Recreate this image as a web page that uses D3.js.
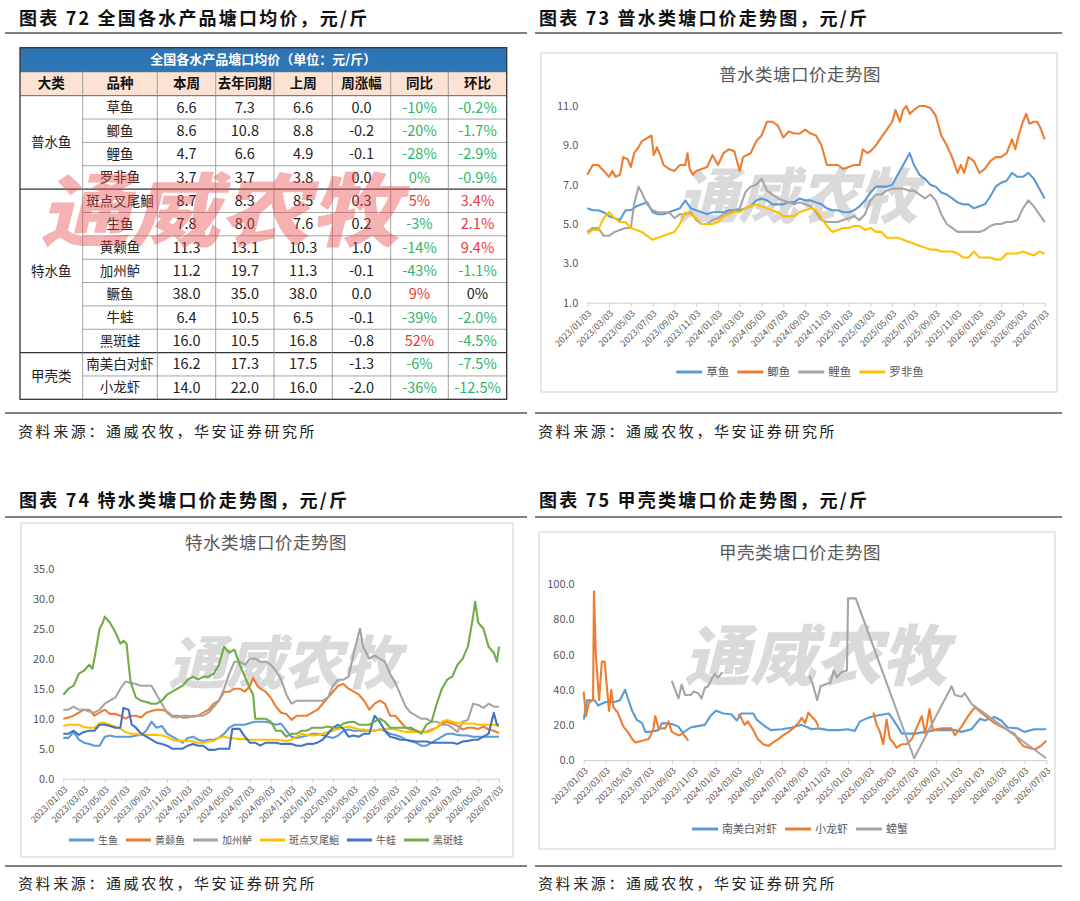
<!DOCTYPE html>
<html>
<head>
<meta charset="utf-8">
<script src="https://cdn.jsdelivr.net/npm/d3@7"></script>
<style>
  body { margin: 0; background: #fff; }
</style>
</head>
<body>
<div id="page"></div>
<script>

// ---------- table 72 ----------
const tableTitle = "全国各水产品塘口均价（单位：元/斤）"
const tableHeader = ["大类", "品种", "本周", "去年同期", "上周", "周涨幅", "同比", "环比"]
const categories = ["普水鱼", "普水鱼", "普水鱼", "普水鱼", "特水鱼", "特水鱼", "特水鱼", "特水鱼", "特水鱼", "特水鱼", "特水鱼", "甲壳类", "甲壳类"]
const varieties = ["草鱼", "鲫鱼", "鲤鱼", "罗非鱼", "斑点叉尾鮰", "生鱼", "黄颡鱼", "加州鲈", "鳜鱼", "牛蛙", "黑斑蛙", "南美白对虾", "小龙虾"]
const thisWeek = [6.6, 8.6, 4.7, 3.7, 8.7, 7.8, 11.3, 11.2, 38.0, 6.4, 16.0, 16.2, 14.0]
const lastYear = [7.3, 10.8, 6.6, 3.7, 8.3, 8.0, 13.1, 19.7, 35.0, 10.5, 10.5, 17.3, 22.0]
const lastWeek = [6.6, 8.8, 4.9, 3.8, 8.5, 7.6, 10.3, 11.3, 38.0, 6.5, 16.8, 17.5, 16.0]
const weekChange = [0.0, -0.2, -0.1, 0.0, 0.3, 0.2, 1.0, -0.1, 0.0, -0.1, -0.8, -1.3, -2.0]
const yoy = [-0.10, -0.20, -0.28, -0.004, 0.05, -0.03, -0.14, -0.43, 0.09, -0.39, 0.52, -0.06, -0.36]
const mom = [-0.002, -0.017, -0.029, -0.009, 0.034, 0.021, 0.094, -0.011, 0, -0.020, -0.045, -0.075, -0.125]

// ---------- shared x ticks ----------
const dateTicks = ["2023/01/03", "2023/03/03", "2023/05/03", "2023/07/03", "2023/09/03", "2023/11/03",
    "2024/01/03", "2024/03/03", "2024/05/03", "2024/07/03", "2024/09/03", "2024/11/03",
    "2025/01/03", "2025/03/03", "2025/05/03", "2025/07/03", "2025/09/03", "2025/11/03",
    "2026/01/03", "2026/03/03", "2026/05/03", "2026/07/03"]

// series points are [months since 2023/01/03, price]

// ---------- chart 73 ----------
const grassCarp = [[0,5.8],[0.5,5.7],[1,5.7],[1.5,5.6],[2,5.4],[2.5,5.3],[3,5.2],[3.5,5.7],[4,5.7],[4.5,5.9],[5,6.0],[5.5,6.1],[6,5.6],[6.5,5.5],[7,5.5],[7.5,5.6],[8,5.7],[8.5,5.8],[9,6.2],[9.5,5.8],[10,5.7],[10.5,5.6],[11,5.5],[11.5,5.6],[12,5.6],[12.5,5.6],[13,5.7],[13.5,5.7],[14,5.7],[14.5,5.8],[15,5.9],[15.5,6.2],[16,6.3],[16.5,6.2],[17,6.0],[17.5,6.0],[18,6.0],[18.5,6.1],[19,6.1],[19.5,6.3],[20,6.2],[20.5,6.2],[21,6.1],[21.5,6.0],[22,5.8],[22.5,5.7],[23,5.7],[23.5,5.6],[24,5.6],[24.5,5.7],[25,5.9],[25.5,6.2],[26,6.6],[26.5,6.9],[27,6.9],[27.5,6.9],[28,7.0],[28.5,7.5],[29,8.0],[29.6,8.6],[30,8.0],[30.5,7.5],[31,7.3],[31.5,7.0],[32,6.9],[32.5,6.6],[33,6.5],[33.5,6.3],[34,6.1],[34.5,6.0],[35,6.0],[35.5,5.8],[36,5.9],[36.5,6.0],[37,6.4],[37.5,6.9],[38,7.1],[38.5,7.2],[39,7.6],[39.5,7.4],[40,7.4],[40.5,7.6],[41,7.3],[41.5,6.8],[42,6.3]]
const crucian = [[0,7.5],[0.5,8.0],[1,8.0],[1.5,7.7],[2,7.4],[2.3,7.7],[2.6,7.4],[3,7.5],[3.3,8.4],[3.7,8.3],[4,7.9],[4.3,8.6],[4.7,8.9],[5,9.2],[5.6,9.4],[5.9,9.5],[6.1,8.5],[6.4,8.9],[6.7,8.5],[7,8.0],[7.5,7.8],[8,7.7],[8.5,8.0],[9,8.0],[9.2,8.6],[9.4,7.8],[9.7,7.5],[10,7.7],[10.5,7.8],[11,7.9],[11.5,8.5],[12,8.0],[12.5,8.6],[13,8.8],[13.5,8.7],[14,7.7],[14.3,8.4],[15,8.6],[15.5,9.2],[16,9.5],[16.5,10.2],[17,10.2],[17.5,10.0],[18,9.4],[18.5,9.7],[19,9.6],[19.5,9.6],[20,9.8],[20.5,9.6],[21,9.5],[21.5,9.0],[22,8.0],[22.5,8.0],[23,8.0],[23.5,7.8],[24,7.9],[24.5,8.0],[25,8.0],[25.3,8.8],[25.7,8.6],[26,8.7],[26.5,9.0],[27,9.4],[27.5,9.8],[28,10.2],[28.3,10.8],[28.7,10.2],[29,10.8],[29.3,11.0],[29.6,10.6],[30,10.8],[30.5,11.0],[31,11.0],[31.5,10.9],[32,10.5],[32.5,9.5],[33,9.0],[33.5,8.4],[34,7.6],[34.3,8.0],[34.6,7.6],[35,8.4],[35.5,8.2],[36,7.6],[36.5,7.8],[37,8.2],[37.5,8.4],[38,8.4],[38.5,8.6],[39,9.3],[39.3,8.8],[39.6,9.5],[40,10.2],[40.3,10.6],[40.6,10.1],[41,10.2],[41.3,10.2],[41.6,9.9],[42,9.3]]
const carp = [[0,4.6],[0.5,4.8],[1,4.8],[1.5,4.4],[2,4.4],[2.5,4.6],[3,4.7],[3.5,4.8],[4,4.8],[4.3,6.0],[4.7,6.9],[5,6.6],[5.5,6.0],[6,5.7],[6.5,5.6],[7,5.6],[7.5,5.6],[8,5.3],[8.5,5.5],[9,5.5],[9.5,5.6],[10,5.2],[10.5,5.0],[11,5.0],[11.5,5.2],[12,5.3],[12.5,5.5],[13,5.6],[13.5,5.7],[14,5.8],[14.5,6.6],[15,6.9],[15.5,7.0],[16,7.3],[16.5,6.7],[17,6.5],[17.5,6.3],[18,6.2],[18.5,6.1],[19,6.0],[19.5,6.1],[20,6.0],[20.5,5.9],[21,5.6],[21.5,5.2],[22,5.1],[22.5,5.1],[23,5.1],[23.5,5.2],[24,5.3],[24.5,5.4],[25,5.2],[25.5,5.5],[26,6.2],[26.5,6.5],[27,6.5],[27.5,6.7],[28,6.8],[28.5,6.8],[29,6.8],[29.5,6.7],[30,6.7],[30.5,6.5],[31,6.3],[31.5,6.5],[32,6.2],[32.5,5.5],[33,5.0],[33.5,4.8],[34,4.6],[34.5,4.6],[35,4.6],[35.5,4.6],[36,4.6],[36.5,4.7],[37,4.9],[37.5,5.0],[38,5.0],[38.5,5.1],[39,5.1],[39.5,5.2],[40,5.8],[40.5,6.2],[41,5.9],[41.5,5.5],[42,5.1]]
const tilapia = [[0,4.5],[0.5,4.7],[1,4.7],[1.5,5.3],[2,5.6],[2.5,5.3],[3,5.1],[3.5,5.1],[4,4.8],[4.5,4.7],[5,4.6],[5.5,4.4],[6,4.2],[6.5,4.3],[7,4.4],[7.5,4.5],[8,4.6],[8.5,5.0],[9,5.6],[9.5,5.5],[10,5.3],[10.5,5.0],[11,5.0],[11.5,5.0],[12,5.1],[12.5,5.4],[13,5.5],[13.5,5.6],[14,5.6],[14.5,5.8],[15,5.9],[15.5,6.0],[16,5.9],[16.5,5.8],[17,5.7],[17.5,5.6],[18,5.4],[18.5,5.4],[19,5.4],[19.5,5.6],[20,5.7],[20.5,5.8],[21,5.7],[21.5,5.3],[22,4.9],[22.5,4.6],[23,4.7],[23.5,4.8],[24,4.8],[24.5,4.9],[25,4.9],[25.5,4.7],[26,4.8],[26.5,4.6],[27,4.6],[27.5,4.3],[28,4.3],[28.5,4.3],[29,4.2],[29.5,4.1],[30,4.0],[30.5,3.9],[31,3.8],[31.5,3.7],[32,3.7],[32.5,3.6],[33,3.6],[33.5,3.6],[34,3.5],[34.5,3.3],[35,3.3],[35.5,3.6],[36,3.3],[36.5,3.3],[37,3.3],[37.5,3.2],[38,3.2],[38.5,3.5],[39,3.5],[39.5,3.5],[40,3.6],[40.5,3.5],[41,3.4],[41.5,3.6],[42,3.5]]

// ---------- chart 74 ----------
const snakehead = [[0,6.8],[0.5,6.8],[1,7.8],[1.5,6.5],[2,6.0],[2.5,5.8],[3,5.5],[3.5,5.5],[4,7.0],[4.5,7.2],[5,7.0],[5.5,7.0],[6,7.0],[6.5,7.0],[7,7.2],[7.5,7.3],[8,8.0],[8.5,9.5],[9,8.5],[9.5,8.8],[10,7.5],[10.5,7.0],[11,6.5],[11.5,6.0],[12,6.8],[12.5,7.0],[13,6.5],[13.5,6.3],[14,6.5],[14.5,6.5],[15,6.8],[15.5,7.5],[16,8.5],[16.5,9.0],[17,9.0],[17.5,9.0],[18,9.3],[18.5,9.5],[19,9.5],[19.5,9.5],[20,9.3],[20.5,9.0],[21,9.2],[21.5,8.0],[22,7.0],[22.5,6.8],[23,7.0],[23.5,7.2],[24,7.5],[24.5,7.5],[25,7.3],[25.5,7.0],[26,6.8],[26.5,7.2],[27,8.0],[27.5,8.2],[28,8.0],[28.5,8.0],[29,8.0],[29.5,8.0],[30,8.0],[30.5,8.2],[31,8.0],[31.5,7.5],[32,7.3],[32.5,7.0],[33,6.5],[33.5,6.3],[34,6.0],[34.5,5.5],[35,5.5],[35.5,6.0],[36,6.5],[36.5,7.0],[37,7.5],[37.5,7.5],[38,7.3],[38.5,7.2],[39,7.2],[39.5,7.0],[40,7.0],[40.5,7.0],[41,7.0],[41.5,7.0],[42,7.0]]
const yellowCatfish = [[0,10],[0.5,10.2],[1,10.5],[1.5,11],[2,11.5],[2.5,11.5],[3,10.5],[3.5,11],[4,11.5],[4.5,10.8],[5,10.8],[5.5,10.5],[6,10],[6.5,10.5],[7,10.5],[7.5,10.2],[8,11],[8.5,11.3],[9,11.5],[9.5,11.5],[10,11.2],[10.5,10.5],[11,10.5],[11.5,10.2],[12,10.2],[12.5,10.5],[13,10.5],[13.5,11],[14,11.5],[14.5,12.5],[15,13],[15.5,14.5],[16,14.5],[16.5,15],[17,15],[17.5,14.5],[18,15.5],[18.3,16.8],[18.7,15.5],[19,15],[19.5,14.5],[20,13.5],[20.5,12],[21,11],[21.5,10.8],[22,9.8],[22.5,10.5],[23,10.5],[23.5,10.5],[24,11],[24.5,11.5],[25,12.5],[25.5,13.5],[26,14.5],[26.5,15.5],[27,15.8],[27.5,15],[28,14.5],[28.5,14],[29,13],[29.5,11.5],[30,12.5],[30.5,13],[31,12.5],[31.5,10.5],[32,10.5],[32.5,9.5],[33,8.5],[33.5,8.2],[34,8],[34.5,7.8],[35,7.8],[35.5,8.2],[36,8.5],[36.5,9.2],[37,9.5],[37.5,9.2],[38,8.8],[38.5,8.2],[39,8.5],[39.5,8.5],[40,8.3],[40.5,8.7],[41,8.2],[41.5,8.0],[42,7.6]]
const bass = [[0,11.5],[0.5,11.5],[1,12],[1.5,11.5],[2,11.5],[2.5,11.2],[3,11],[3.5,11.5],[4,12.5],[4.5,13],[5,13.5],[5.5,15],[6,16.2],[6.5,16],[7,15.8],[7.5,15.5],[8,15.5],[8.5,15.5],[9,14],[9.5,12.5],[10,11],[10.5,10.3],[11,10.2],[11.5,10.5],[12,10.5],[12.5,10.3],[13,10.5],[13.5,10.5],[14,11],[14.5,12],[15,13],[15.5,15],[16,17.5],[16.5,19.5],[17,19.5],[17.5,19],[18,20],[18.5,20],[19,19.5],[19.5,19.5],[20,19],[20.5,18],[21,16.5],[21.5,14],[22,12.5],[22.5,13],[23,13],[23.5,13],[24,13],[24.5,13],[25,13],[25.5,13.5],[26,15.5],[26.5,16.5],[27,16.5],[27.5,17],[28,21],[28.6,25],[28.9,22],[29.2,21],[29.5,20],[30,20.5],[30.5,20],[31,19.5],[31.5,17.5],[32,16],[32.5,14],[33,12],[33.5,11],[34,10.5],[34.5,10],[35,10],[35.5,9.5],[36,9.5],[36.5,9],[37,9],[37.5,8.5],[38,7.8],[38.5,9.5],[39,9.8],[39.5,12.5],[40,12.3],[40.5,11.8],[41,12.5],[41.5,12],[42,12]]
const channelCatfish = [[0,8.8],[0.5,9],[1,9],[1.5,9],[2,8.6],[2.5,8.5],[3,8.5],[3.5,9.3],[4,9.3],[4.5,9],[5,8.7],[5.5,8.3],[6,7.8],[6.5,7.5],[7,7.5],[7.5,7.3],[8,7.3],[8.5,7.3],[9,7.3],[9.5,7.2],[10,7],[10.5,6.5],[11,6.3],[11.5,6.3],[12,6.3],[12.5,6.2],[13,6],[13.5,6],[14,6.2],[14.5,6.3],[15,6.8],[15.5,7],[16,6.8],[16.5,6.7],[17,6.6],[17.5,6.6],[18,6.5],[18.5,6.5],[19,6.5],[19.5,6.5],[20,6.5],[20.5,6.5],[21,6.4],[21.5,6.3],[22,6.5],[22.5,7],[23,7.5],[23.5,7.3],[24,7.2],[24.5,7.3],[25,7.5],[25.5,7.8],[26,8],[26.5,8.3],[27,8.5],[27.5,8.7],[28,8.5],[28.5,8.2],[29,8.2],[29.5,8],[30,8],[30.5,8.2],[31,8.3],[31.5,8.3],[32,8.2],[32.5,8],[33,7.8],[33.5,7.8],[34,7.8],[34.5,7.8],[35,7.7],[35.5,8],[36,8.5],[36.5,9.5],[37,9.8],[37.5,9.5],[38,9.3],[38.5,9.2],[39,9.2],[39.5,9.2],[40,9.0],[40.5,9.0],[41,9.0],[41.5,9.0],[42,8.7]]
const bullfrog = [[0,7.5],[0.5,7.5],[1,8],[1.5,7.3],[2,7.8],[2.5,8],[3,8],[3.5,9],[4,9],[4.5,8.8],[5,8.5],[5.5,8.5],[5.8,11.8],[6.3,11.5],[6.6,9],[7,8.5],[7.5,7.5],[8,7],[8.5,6.5],[9,6],[9.5,5.8],[10,5.5],[10.5,5],[11,5],[11.5,5],[12,5.5],[12.5,5.8],[13,5.5],[13.5,5.5],[14,4.8],[14.5,4.8],[15,5],[15.5,5],[16,5],[16.3,8.3],[17,8.3],[17.5,7],[18,6],[18.5,6],[19,5.5],[19.5,6],[20,6],[20.5,6],[21,5.8],[21.5,5.8],[22,5.8],[22.5,5.5],[23,5.5],[23.5,5.8],[24,5.8],[24.5,6],[25,6.5],[25.5,7.5],[26,8.5],[26.5,9],[27,8.3],[27.5,7],[28,7.2],[28.5,7],[29,7.5],[29.5,7.5],[30,10.5],[30.5,9.5],[31,8],[31.5,7],[32,6.8],[32.5,6.5],[33,6.5],[33.5,6.3],[34,6.2],[34.5,6.2],[35,6.2],[35.5,6],[36,6],[36.5,6],[37,6],[37.5,6],[38,5.8],[38.5,6.2],[39,6.3],[39.5,6.5],[40,6.5],[40.5,7],[41,7.5],[41.5,11],[41.8,9],[42,9]]
const blackFrog = [[0,14],[0.5,15],[1,15.5],[1.5,17.5],[2,18],[2.5,19],[2.8,18.3],[3,20],[3.5,25],[3.8,26],[4,27],[4.5,26],[5,24.5],[5.5,22.5],[5.8,23],[6.1,22.5],[6.3,19],[6.5,16],[7,13.5],[7.5,13],[8,12.8],[8.5,12.5],[9,12.5],[9.5,13],[10,14],[10.5,14.5],[11,15],[11.5,15.5],[12,16.5],[12.5,17],[13,16.5],[13.5,17],[14,17],[14.5,17.5],[15,19],[15.5,22],[16,21],[16.5,21.5],[17,19],[17.5,17],[18,15],[18.3,14],[18.5,10],[19,10],[19.5,10],[20,9.5],[20.5,8],[21,8],[21.5,7],[22,7.5],[22.5,7.5],[23,8],[23.5,8],[24,8.5],[24.5,8.5],[25,8.5],[25.5,8.7],[26,8.5],[26.5,8.5],[27,9.2],[27.5,9.4],[28,9.5],[28.5,9],[29,9],[29.5,9],[30,9.5],[30.5,10],[31,9.5],[31.5,8.5],[32,8.5],[32.5,8.5],[33,8.5],[33.5,8.5],[34,8],[34.5,7.5],[35,9],[35.5,9.5],[36,12.5],[36.5,15],[37,16.5],[37.5,17],[38,19],[38.5,20],[39,22],[39.5,27],[39.7,29.5],[40,26],[40.5,25],[41,22],[41.5,21],[41.8,19.5],[42,22]]

// ---------- chart 75 (null = no quote) ----------
const whiteShrimp = [[0,23],[0.3,34],[1,34],[1.3,31],[2,33],[2.8,33],[3.3,34],[3.75,40],[4.4,28],[4.8,23],[5.3,21],[5.6,16],[6,16],[6.8,17],[7.1,21],[8,20.5],[8.6,19],[9,15.5],[9.7,18.5],[10.1,19],[11,20],[11.5,25],[12,28],[12.7,26.5],[13.4,26],[13.9,22.5],[14.3,26.5],[15.4,26.5],[15.7,23],[16.5,19],[17,17],[18,17.5],[18.9,18.5],[19.8,20],[20.7,17.5],[21.3,18],[22.2,17],[23.1,17],[24,17.5],[24.6,16.5],[25.1,22],[25.8,24],[26.4,25],[27.7,26.5],[28.1,23],[28.9,15],[30.1,15],[31,16],[31.9,17],[33.7,17],[34.3,16],[35.2,17.5],[36,23.5],[36.4,22.5],[37.3,24.5],[37.9,22.5],[38.5,18.5],[39.4,18],[40,16],[40.9,17.5],[42,17.5]]
const crayfish = [[0,39],[0.2,25],[0.5,33],[0.85,34],[0.93,96],[1.1,60],[1.4,34],[1.65,56],[1.9,56],[2.3,28],[2.5,40],[2.7,30],[3.1,27],[3.6,19],[4,16],[4.4,12],[4.7,10],[5.3,11],[5.9,12],[6.3,17],[6.5,25],[6.8,18],[7.4,18],[7.7,22],[8,16],[8.6,14],[9,15],[9.5,11],[9.6,null],
    [13.9,null],[14,26],[14.3,24],[14.6,20],[14.9,22],[15.4,17],[15.8,12],[16.3,9],[16.8,8],[17.2,10],[17.7,12],[18.1,14],[18.6,16],[19,18],[19.5,21],[19.8,24],[20.1,21],[20.4,27],[20.8,24],[21.1,22],[21.3,19],[21.4,null],
    [26.2,null],[26.3,27],[26.6,20],[26.9,16],[27.2,9],[27.5,23],[27.8,12],[28.1,10],[28.4,7],[28.9,9],[29.3,9],[29.8,12],[30.2,18],[30.7,25],[31,15],[31.4,29],[31.7,17],[32.5,18],[33.4,18],[33.7,14],[34.3,19],[34.9,25],[35.5,30],[36.1,27],[36.7,24],[37.3,21],[37.9,19],[38.5,17],[39.1,15],[39.5,11],[39.9,8],[40.4,7],[41,6],[41.5,8],[42,11]]
const crab = [[8,45],[8.3,40],[8.6,35],[8.9,43],[9.2,37],[9.7,37],[10,39],[10.4,38],[10.7,35],[11,41],[11.3,42],[11.6,46],[11.9,49],[12.2,47],[12.6,50],[12.7,null],
    [20.4,null],[20.5,48],[20.8,43],[21.2,34],[21.5,42],[21.9,43],[22.4,44],[22.7,51],[23,47],[23.4,50],[23.9,51],[24,92],[24.7,92],[30,1],[33.4,42],[33.7,37],[34.3,36],[34.6,38],[35.2,32],[42,1]]


const FONT = "'Noto Sans CJK SC', 'Noto Sans', sans-serif"
const GREY_TXT = "#595959"

const svg = d3.select("#page").append("svg")
    .attr("width", 1080)
    .attr("height", 901)
    .style("font-family", FONT)

svg.append("rect").attr("width", 1080).attr("height", 901).attr("fill", "#fff")

// ---------- page headings / rules / sources ----------
function heading(x, y, txt) {
    svg.append("text")
        .attr("x", x).attr("y", y)
        .attr("font-size", 18)
        .attr("font-weight", 700)
        .attr("letter-spacing", 2.2)
        .attr("fill", "#111")
        .text(txt)
}
function rule(x1, x2, y) {
    svg.append("line")
        .attr("x1", x1).attr("x2", x2).attr("y1", y).attr("y2", y)
        .attr("stroke", "#555").attr("stroke-width", 1.3)
}
function source(x, y) {
    svg.append("text")
        .attr("x", x).attr("y", y)
        .attr("font-size", 15)
        .attr("letter-spacing", 2.6)
        .attr("fill", "#222")
        .text("资料来源：通威农牧，华安证券研究所")
}

heading(19, 25, "图表 72 全国各水产品塘口均价，元/斤")
heading(539, 25, "图表 73 普水类塘口价走势图，元/斤")
rule(5, 527, 33)
rule(535, 1062, 33)
rule(5, 527, 413)
rule(535, 1062, 413)
source(18, 437)
source(538, 437)

heading(19, 507, "图表 74 特水类塘口价走势图，元/斤")
heading(539, 507, "图表 75 甲壳类塘口价走势图，元/斤")
rule(5, 527, 517)
rule(535, 1062, 517)
rule(5, 527, 866)
rule(535, 1062, 866)
source(18, 889)
source(538, 889)


// ---------- table ----------
function drawTable() {
    let g = svg.append("g")
    let colX = [20, 82.7, 157.3, 215.7, 274, 332.3, 390.7, 448.3, 506.7]
    let top = 47.7, barH = 24, headH = 24
    let rowY = d3.scaleLinear()
        .domain([0, varieties.length])
        .range([top + barH + headH, 399.3])
    let bottom = rowY(varieties.length)
    let midX = i => (colX[i] + colX[i + 1]) / 2

    g.append("rect")
        .attr("x", colX[0]).attr("y", top)
        .attr("width", colX[8] - colX[0]).attr("height", barH)
        .attr("fill", "#2e75b6")
    g.append("text")
        .attr("x", (colX[0] + colX[8]) / 2).attr("y", top + barH / 2)
        .attr("dy", "0.35em").attr("text-anchor", "middle")
        .attr("font-size", 13).attr("font-weight", 700).attr("fill", "#fff")
        .text(tableTitle)

    g.append("rect")
        .attr("x", colX[0]).attr("y", top + barH)
        .attr("width", colX[8] - colX[0]).attr("height", headH)
        .attr("fill", "#fbe2d3")
    g.selectAll(".th")
        .data(tableHeader)
        .enter().append("text")
        .attr("x", (d, i) => midX(i))
        .attr("y", top + barH + headH / 2)
        .attr("dy", "0.35em").attr("text-anchor", "middle")
        .attr("font-size", 13.5).attr("font-weight", 700).attr("fill", "#111")
        .text(d => d)

    let pctColor = v => v < 0 ? "#2fb36a" : (v > 0 ? "#e6393f" : "#222")
    let fmt1 = v => v.toFixed(1)
    let fmtYoy = v => `${Math.round(v * 100)}%`
    let fmtMom = v => v === 0 ? "0%" : (v * 100).toFixed(1) + "%"

    let cols = [
        {vals: varieties, f: d => d, c: () => "#222"},
        {vals: thisWeek, f: fmt1, c: () => "#222"},
        {vals: lastYear, f: fmt1, c: () => "#222"},
        {vals: lastWeek, f: fmt1, c: () => "#222"},
        {vals: weekChange, f: fmt1, c: () => "#222"},
        {vals: yoy, f: fmtYoy, c: pctColor},
        {vals: mom, f: fmtMom, c: pctColor}
    ]
    cols.forEach((col, ci) => {
        g.selectAll(".c" + ci)
            .data(col.vals)
            .enter().append("text")
            .attr("x", midX(ci + 1))
            .attr("y", (d, i) => (rowY(i) + rowY(i + 1)) / 2)
            .attr("dy", "0.36em").attr("text-anchor", "middle")
            .attr("font-size", ci === 0 ? 13.5 : 14.5)
            .attr("fill", d => col.c(d))
            .text(d => col.f(d))
    })

    // category merged cells
    let groups = d3.groups(categories.map((c, i) => ({c, i})), d => d.c)
    groups.forEach(([name, rows]) => {
        let r0 = rows[0].i, r1 = rows[rows.length - 1].i + 1
        g.append("text")
            .attr("x", midX(0)).attr("y", (rowY(r0) + rowY(r1)) / 2)
            .attr("dy", "0.36em").attr("text-anchor", "middle")
            .attr("font-size", 13.5).attr("fill", "#222")
            .text(name)
    })

    let groupEnds = groups.map(([, rows]) => rows[rows.length - 1].i + 1)

    // horizontal grid
    d3.range(1, varieties.length).forEach(r => {
        let isGroup = groupEnds.includes(r)
        g.append("line")
            .attr("x1", isGroup ? colX[0] : colX[1]).attr("x2", colX[8])
            .attr("y1", rowY(r)).attr("y2", rowY(r))
            .attr("stroke", isGroup ? "#333" : "#8c8c8c")
            .attr("stroke-width", isGroup ? 1.4 : 0.8)
    })
    g.append("line")
        .attr("x1", colX[0]).attr("x2", colX[8])
        .attr("y1", rowY(0)).attr("y2", rowY(0))
        .attr("stroke", "#555").attr("stroke-width", 0.9)
    g.append("line")
        .attr("x1", colX[0]).attr("x2", colX[8])
        .attr("y1", top + barH).attr("y2", top + barH)
        .attr("stroke", "#555").attr("stroke-width", 0.9)

    // vertical grid
    colX.slice(1, 8).forEach(x => {
        g.append("line")
            .attr("x1", x).attr("x2", x)
            .attr("y1", top + barH).attr("y2", bottom)
            .attr("stroke", "#8c8c8c").attr("stroke-width", 0.8)
    })

    g.append("rect")
        .attr("x", colX[0]).attr("y", top)
        .attr("width", colX[8] - colX[0]).attr("height", bottom - top)
        .attr("fill", "none").attr("stroke", "#333").attr("stroke-width", 1.3)

    // red watermark over the table
    g.append("text")
        .attr("transform", "translate(40,240) skewX(-14)")
        .attr("font-size", 80).attr("font-weight", 900)
        .attr("textLength", 360).attr("lengthAdjust", "spacingAndGlyphs")
        .attr("fill", "#ea4a4a").attr("opacity", 0.42)
        .text("通威农牧")
}
drawTable()


// ---------- line charts ----------
const labelToMonth = s => (+s.slice(0, 4) - 2023) * 12 + (+s.slice(5, 7) - 1)

function lineChart(opt) {
    let g = svg.append("g")

    g.append("rect")
        .attr("x", opt.frame[0]).attr("y", opt.frame[1])
        .attr("width", opt.frame[2] - opt.frame[0]).attr("height", opt.frame[3] - opt.frame[1])
        .attr("fill", "#fff").attr("stroke", "#d9d9d9").attr("stroke-width", 1.2)

    // watermark
    g.append("text")
        .attr("transform", `translate(${opt.mark[0]},${opt.mark[1]}) skewX(-14)`)
        .attr("font-size", opt.mark[2]).attr("font-weight", 900)
        .attr("fill", "#d4d4d4").attr("opacity", 0.85)
        .text("通威农牧")

    g.append("text")
        .attr("x", opt.titleX).attr("y", opt.titleY)
        .attr("text-anchor", "middle").attr("dy", "0.35em")
        .attr("font-size", 17.5).attr("fill", GREY_TXT)
        .attr("letter-spacing", 0.5)
        .text(opt.title)

    let x = d3.scaleLinear().domain([0, 42]).range([opt.x0, opt.x1])
    let y = d3.scaleLinear().domain(opt.yDomain).range([opt.y0, opt.y1])

    let yAxis = d3.axisLeft(y)
        .tickValues(opt.yTicks)
        .tickFormat(d3.format(".1f"))
        .tickSize(0)
        .tickPadding(9)
    let gy = g.append("g").attr("transform", `translate(${opt.x0},0)`).call(yAxis)
    gy.select(".domain").remove()
    gy.selectAll("text").attr("font-size", 11).attr("fill", GREY_TXT).attr("font-family", FONT)

    let xAxis = d3.axisBottom(x)
        .tickValues(dateTicks.map(labelToMonth))
        .tickFormat((d, i) => dateTicks[i])
        .tickSize(4)
        .tickSizeOuter(0)
    let gx = g.append("g").attr("transform", `translate(0,${opt.y0})`).call(xAxis)
    gx.select(".domain").attr("stroke", "#d0d0d0")
    gx.selectAll(".tick line").attr("stroke", "#d0d0d0")
    gx.selectAll("text")
        .attr("x", 0).attr("y", 0).attr("dy", "0.35em")
        .attr("transform", "translate(2,9) rotate(-45)")
        .attr("text-anchor", "end")
        .attr("font-size", 9).attr("fill", GREY_TXT).attr("font-family", FONT)

    let line = d3.line()
        .defined(d => d[1] != null)
        .x(d => x(d[0]))
        .y(d => y(d[1]))

    opt.series.forEach(s => {
        g.append("path")
            .datum(s.data)
            .attr("fill", "none")
            .attr("stroke", s.color)
            .attr("stroke-width", 2.1)
            .attr("stroke-linejoin", "round")
            .attr("d", line)
    })

    // legend, centred
    let lg = g.append("g")
    let cx = 0
    opt.series.forEach(s => {
        lg.append("line")
            .attr("x1", cx).attr("x2", cx + opt.legLine)
            .attr("y1", 0).attr("y2", 0)
            .attr("stroke", s.color).attr("stroke-width", 3)
        let t = lg.append("text")
            .attr("x", cx + opt.legLine + 4).attr("y", 0).attr("dy", "0.35em")
            .attr("font-size", opt.legFont).attr("fill", GREY_TXT)
            .text(s.name)
        cx += opt.legLine + 4 + t.node().getComputedTextLength() + 8
    })
    let legW = cx - 8
    lg.attr("transform", `translate(${opt.titleX - legW / 2},${opt.legY})`)
}

lineChart({
    frame: [541, 53, 1057, 392],
    title: "普水类塘口价走势图", titleX: 800, titleY: 75,
    mark: [678, 218, 60],
    x0: 587.3, x1: 1044.7, y0: 302.7, y1: 106,
    yDomain: [1, 11], yTicks: [1, 3, 5, 7, 9, 11],
    legY: 372, legLine: 26, legFont: 11.5,
    series: [
        {name: "草鱼", color: "#5b9bd5", data: grassCarp},
        {name: "鲫鱼", color: "#ed7d31", data: crucian},
        {name: "鲤鱼", color: "#a5a5a5", data: carp},
        {name: "罗非鱼", color: "#ffc000", data: tilapia}
    ]
})

lineChart({
    frame: [21, 523, 513, 857],
    title: "特水类塘口价走势图", titleX: 266, titleY: 543,
    mark: [168, 684, 58],
    x0: 63.3, x1: 499, y0: 778.7, y1: 568.7,
    yDomain: [0, 35], yTicks: [0, 5, 10, 15, 20, 25, 30, 35],
    legY: 840, legLine: 25, legFont: 10,
    series: [
        {name: "生鱼", color: "#5b9bd5", data: snakehead},
        {name: "黄颡鱼", color: "#ed7d31", data: yellowCatfish},
        {name: "加州鲈", color: "#a5a5a5", data: bass},
        {name: "斑点叉尾鮰", color: "#ffc000", data: channelCatfish},
        {name: "牛蛙", color: "#4472c4", data: bullfrog},
        {name: "黑斑蛙", color: "#70ad47", data: blackFrog}
    ]
})

lineChart({
    frame: [539, 532, 1055, 849],
    title: "甲壳类塘口价走势图", titleX: 800, titleY: 553,
    mark: [684, 680, 66],
    x0: 583.7, x1: 1046.3, y0: 760, y1: 584.3,
    yDomain: [0, 100], yTicks: [0, 20, 40, 60, 80, 100],
    legY: 829, legLine: 26, legFont: 11,
    series: [
        {name: "南美白对虾", color: "#5b9bd5", data: whiteShrimp},
        {name: "小龙虾", color: "#ed7d31", data: crayfish},
        {name: "螃蟹", color: "#a5a5a5", data: crab}
    ]
})

</script>
</body>
</html>
